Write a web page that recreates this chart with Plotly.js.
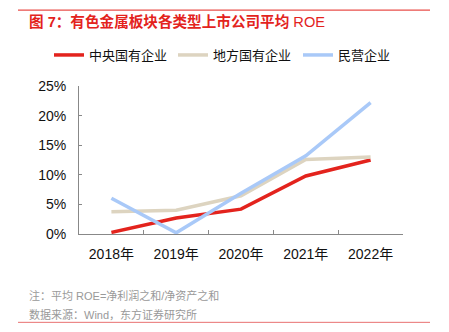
<!DOCTYPE html>
<html>
<head>
<meta charset="utf-8">
<script src="https://cdn.plot.ly/plotly-3.0.1.min.js"></script>
<style>html,body{margin:0;padding:0;background:#fff;}#chart{width:449px;height:332px;}</style>
</head>
<body>
<div id="chart"></div>
<script>
const categories = ["2018年", "2019年", "2020年", "2021年", "2022年"];
const centralSOE = [0.27, 2.7, 4.2, 9.8, 12.5];
const localSOE = [3.75, 4.0, 6.45, 12.6, 13.0];
const privateEnt = [6.05, 0.2, 6.9, 13.2, 22.2];
const seriesNames = ["中央国有企业", "地方国有企业", "民营企业"];
const yTicks = [0, 5, 10, 15, 20, 25];
const yTickText = ["0%", "5%", "10%", "15%", "20%", "25%"];

const font = "Liberation Sans, Noto Sans CJK SC, sans-serif";
const colors = ["#e3231d", "#ddd4c0", "#a9c9f8"];
const legendIds = ["legend", "legend2", "legend3"];
const legendLeft = [49, 173, 298];
const vals = [centralSOE, localSOE, privateEnt];
const traces = vals.map((v, i) => ({
  x: categories, y: v, name: seriesNames[i], type: "scatter", mode: "lines",
  line: {color: colors[i], width: 3.5}, legend: legendIds[i]
}));

const L = 79, R = 403, T = 85.7, B = 234.3;
const W = R - L, H = B - T;
const px = p => (p - L) / W;
const py = p => (B - p) / H;

const layout = {
  width: 449, height: 332,
  margin: {l: L, r: 449 - R, t: T, b: 332 - B},
  paper_bgcolor: "#fff", plot_bgcolor: "#fff",
  font: {family: font, size: 13, color: "#111"},
  showlegend: true,
  xaxis: {type: "category", range: [-0.5, 4.5], showline: true, linecolor: "#888", linewidth: 1,
          ticks: "inside", tickson: "boundaries", ticklen: 4, tickcolor: "#888",
          showgrid: false, zeroline: false, tickfont: {size: 14, color: "#111"},
          ticklabelstandoff: 7, fixedrange: true},
  yaxis: {range: [0, 25], tickvals: yTicks, ticktext: yTickText, showline: true, linecolor: "#888",
          linewidth: 1, ticks: "inside", ticklen: 3, tickcolor: "#888", showgrid: false,
          zeroline: false, tickfont: {size: 14, color: "#111"}, ticklabelstandoff: 9, fixedrange: true},
  shapes: [
    {type: "line", xref: "paper", yref: "paper", x0: px(18), x1: px(430), y0: py(9.5), y1: py(9.5),
     line: {color: "#e3231d", width: 1}},
    {type: "line", xref: "paper", yref: "paper", x0: px(18), x1: px(430), y0: py(323), y1: py(323),
     line: {color: "#e87070", width: 1}}
  ],
  annotations: [
    {xref: "paper", yref: "paper", x: px(27), y: py(21), xanchor: "left", yanchor: "middle",
     showarrow: false, text: "<b>图 7：有色金属板块各类型上市公司平均</b> ROE",
     font: {size: 14.6, color: "#e3231d", family: font}},
    {xref: "paper", yref: "paper", x: px(27), y: py(296), xanchor: "left", yanchor: "middle",
     showarrow: false, text: "注：平均 ROE=净利润之和/净资产之和",
     font: {size: 11, color: "#999", family: font}},
    {xref: "paper", yref: "paper", x: px(27), y: py(315), xanchor: "left", yanchor: "middle",
     showarrow: false, text: "数据来源：Wind，东方证券研究所",
     font: {size: 11, color: "#999", family: font}}
  ]
};
legendIds.forEach((id, i) => {
  layout[id] = {orientation: "h", xref: "container", yref: "container", x: legendLeft[i] / 449,
                xanchor: "left", y: 1 - 55 / 332, yanchor: "middle", font: {size: 13, color: "#111"},
                itemwidth: 30, bgcolor: "rgba(0,0,0,0)", borderwidth: 0};
});

Plotly.newPlot("chart", traces, layout, {staticPlot: true, displayModeBar: false});
</script>
</body>
</html>
